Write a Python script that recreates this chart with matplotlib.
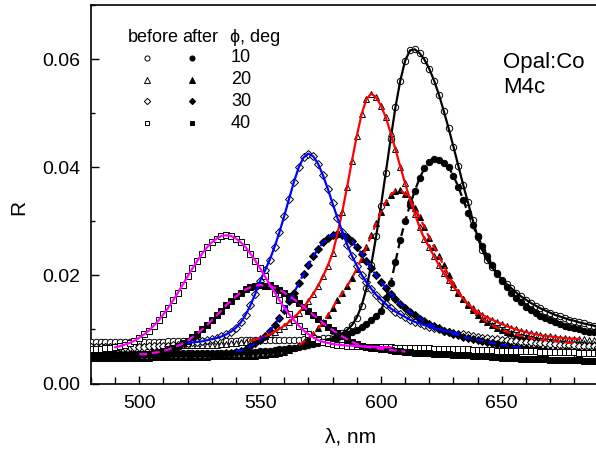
import numpy as np
import matplotlib
matplotlib.use('Agg')
from matplotlib import pyplot as plt
from matplotlib.ticker import MultipleLocator, FormatStrFormatter

plt.rcParams['font.family'] = ['Liberation Sans', 'DejaVu Sans']

# wavelength grid of the measured points, nm
wavelength = np.arange(480, 692, 2)

# reflectance, in units of 1e-4
r10_before = np.array([
    76, 76, 76, 76, 76, 76, 76, 76, 77, 77,
    77, 77, 77, 77, 77, 77, 78, 78, 78, 78,
    78, 78, 78, 78, 79, 79, 79, 79, 79, 79,
    79, 80, 80, 80, 80, 80, 80, 80, 80, 80,
    80, 81, 81, 81, 82, 82, 83, 83, 84, 85,
    86, 89, 93, 99, 108, 122, 144, 176, 220, 272,
    329, 390, 452, 511, 560, 597, 616, 618, 611, 599,
    582, 560, 534, 504, 472, 438, 403, 368, 335, 302,
    271, 246, 228, 215, 203, 192, 184, 176, 168, 161,
    155, 149, 144, 139, 135, 131, 127, 124, 121, 118,
    116, 113, 111, 109, 107, 105]) / 1e4
r10_after = np.array([
    55, 55, 55, 55, 55, 55, 55, 55, 55, 55,
    55, 55, 55, 56, 56, 56, 56, 56, 56, 56,
    56, 56, 56, 56, 57, 57, 57, 57, 57, 57,
    58, 58, 58, 59, 59, 60, 60, 61, 62, 63,
    64, 65, 66, 68, 69, 71, 73, 75, 77, 79,
    81, 84, 87, 91, 95, 99, 104, 110, 117, 125,
    135, 158, 185, 225, 266, 300, 330, 356, 380, 398,
    410, 416, 414, 408, 400, 384, 364, 340, 316, 293,
    272, 254, 236, 219, 204, 190, 178, 168, 158, 150,
    142, 136, 130, 125, 121, 117, 113, 110, 107, 104,
    102, 100, 98, 96, 95, 94]) / 1e4
r20_before = np.array([
    70, 70, 70, 70, 70, 70, 70, 70, 70, 70,
    70, 70, 70, 70, 70, 70, 70, 70, 71, 71,
    71, 71, 71, 71, 71, 72, 72, 73, 73, 74,
    75, 76, 77, 79, 81, 84, 87, 91, 96, 101,
    107, 114, 122, 131, 141, 153, 166, 181, 198, 218,
    241, 277, 318, 364, 412, 458, 498, 526, 536, 529,
    514, 492, 464, 433, 401, 370, 341, 314, 289, 267,
    252, 235, 219, 204, 191, 179, 168, 157, 147, 139,
    132, 127, 122, 118, 114, 110, 106, 103, 100, 97,
    95, 93, 91, 89, 88, 87, 86, 85, 84, 83,
    83, 82, 82, 81, 81, 80]) / 1e4
r20_after = np.array([
    48, 48, 48, 48, 48, 48, 48, 48, 48, 48,
    48, 48, 48, 49, 49, 49, 49, 49, 49, 49,
    49, 49, 49, 49, 49, 50, 50, 50, 50, 50,
    50, 50, 50, 51, 51, 52, 53, 54, 55, 57,
    59, 62, 66, 71, 77, 84, 92, 102, 113, 126,
    140, 155, 167, 180, 195, 212, 231, 252, 274, 296,
    317, 335, 349, 356, 357, 351, 340, 325, 308, 289,
    270, 252, 235, 219, 200, 184, 170, 157, 146, 136,
    127, 120, 113, 108, 103, 99, 96, 93, 90, 88,
    86, 84, 82, 81, 80, 79, 78, 77, 76, 75,
    75, 74, 74, 73, 73, 72]) / 1e4
r30_before = np.array([
    68, 68, 68, 68, 68, 68, 68, 68, 68, 68,
    68, 68, 69, 69, 69, 70, 70, 71, 72, 73,
    75, 76, 77, 78, 80, 82, 84, 87, 91, 96,
    103, 113, 127, 145, 166, 190, 209, 229, 253, 280,
    310, 342, 373, 400, 418, 425, 420, 406, 385, 360,
    333, 306, 281, 257, 236, 218, 201, 187, 175, 164,
    155, 147, 139, 133, 128, 123, 118, 114, 111, 108,
    105, 102, 100, 98, 96, 94, 92, 91, 89, 88,
    86, 85, 84, 83, 82, 81, 80, 79, 78, 77,
    77, 76, 75, 75, 74, 73, 73, 72, 72, 71,
    71, 70, 70, 69, 69, 68]) / 1e4
r30_after = np.array([
    53, 53, 53, 53, 53, 53, 53, 53, 53, 53,
    53, 53, 53, 53, 53, 53, 53, 54, 54, 54,
    54, 54, 54, 54, 54, 54, 55, 55, 56, 57,
    59, 61, 64, 69, 74, 80, 88, 98, 109, 122,
    136, 152, 168, 185, 203, 220, 235, 249, 261, 270,
    275, 277, 275, 271, 263, 252, 240, 227, 213, 200,
    188, 177, 166, 156, 147, 140, 132, 126, 120, 115,
    110, 106, 102, 98, 95, 92, 89, 86, 84, 83,
    81, 79, 77, 75, 73, 72, 70, 68, 67, 66,
    65, 64, 63, 62, 62, 61, 61, 60, 60, 60,
    59, 59, 59, 58, 58, 58]) / 1e4
r40_before = np.array([
    63, 63, 64, 65, 66, 67, 69, 72, 75, 79,
    85, 91, 98, 107, 117, 128, 140, 154, 168, 183,
    198, 213, 227, 240, 252, 261, 268, 273, 274, 273,
    268, 261, 252, 240, 227, 213, 198, 183, 168, 154,
    140, 128, 117, 107, 98, 91, 85, 80, 77, 75,
    73, 72, 71, 70, 70, 69, 69, 68, 68, 68,
    67, 67, 67, 66, 66, 66, 66, 65, 65, 65,
    65, 64, 64, 64, 64, 63, 63, 63, 63, 62,
    62, 62, 62, 62, 61, 61, 61, 61, 60, 60,
    60, 60, 60, 59, 59, 59, 59, 58, 58, 58,
    58, 57, 57, 57, 57, 57]) / 1e4
r40_after = np.array([
    52, 52, 52, 52, 52, 52, 52, 52, 53, 53,
    54, 54, 55, 57, 58, 60, 63, 66, 70, 74,
    79, 86, 92, 100, 108, 117, 126, 135, 145, 153,
    161, 168, 174, 178, 181, 182, 181, 180, 177, 173,
    168, 162, 156, 149, 142, 135, 127, 120, 112, 105,
    99, 93, 87, 82, 77, 73, 70, 68, 66, 65,
    64, 63, 62, 61, 60, 59, 58, 57, 57, 56,
    56, 55, 55, 54, 54, 53, 53, 52, 52, 51,
    51, 50, 50, 49, 49, 48, 48, 47, 47, 46,
    46, 46, 45, 45, 45, 44, 44, 44, 43, 43,
    43, 43, 42, 42, 42, 42]) / 1e4

angles = ['10', '20', '30', '40']
before = [r10_before, r20_before, r30_before, r40_before]
after = [r10_after, r20_after, r30_after, r40_after]
# wavelength ranges covered by the fitted curves
fit_before = [(580, 690), (546, 682), (520, 632), (490, 604)]
fit_after = [(588, 690), (566, 680), (540, 658), (500, 610)]

fit_colors = ['black', 'red', 'blue', 'magenta']
markers = ['o', '^', 'D', 's']
msizes = [4.6, 5.0, 4.0, 4.2]

fig = plt.figure(figsize=(5.96, 4.54), dpi=100)
ax = fig.add_axes([91 / 596, 70.5 / 454, 505 / 596, 378.5 / 454])

for i in range(4):
    ax.plot(wavelength, before[i], ls='none', marker=markers[i], ms=msizes[i],
            mfc='white', mec='black', mew=0.7, zorder=3)
    ax.plot(wavelength, after[i], ls='none', marker=markers[i], ms=msizes[i],
            mfc='black', mec='black', mew=0.7, zorder=3)

for i in range(4):
    lo, hi = fit_before[i]
    m = (wavelength >= lo) & (wavelength <= hi)
    ax.plot(wavelength[m], before[i][m], color=fit_colors[i], lw=1.6, zorder=4)
    lo, hi = fit_after[i]
    m = (wavelength >= lo) & (wavelength <= hi)
    ax.plot(wavelength[m], after[i][m], color=fit_colors[i], lw=1.6,
            dashes=(3.5, 2.2), zorder=4)

ax.set_xlim(480, 689)
ax.set_ylim(0, 0.07)
ax.xaxis.set_major_locator(MultipleLocator(50))
ax.xaxis.set_minor_locator(MultipleLocator(10))
ax.yaxis.set_major_locator(MultipleLocator(0.02))
ax.yaxis.set_minor_locator(MultipleLocator(0.01))
ax.yaxis.set_major_formatter(FormatStrFormatter('%.2f'))
ax.tick_params(which='both', direction='in', width=1.0, labelsize=14,
               top=False, right=False)
ax.tick_params(axis='x', which='major', length=6, pad=8)
ax.tick_params(axis='x', which='minor', length=5)
ax.tick_params(axis='y', which='major', length=6, pad=8)
ax.tick_params(axis='y', which='minor', length=3)
ax.spines['right'].set_visible(False)
for s in ['left', 'bottom', 'top']:
    ax.spines[s].set_linewidth(1.2)

ax.set_xlabel('λ, nm', fontsize=15)
ax.xaxis.set_label_coords(0.513, -0.115)
ax.set_ylabel('R', fontsize=15)
ax.yaxis.set_label_coords(-0.125, 0.464)

ax.text(0.816, 0.834, 'Opal:Co', fontsize=16, transform=ax.transAxes)
ax.text(0.816, 0.767, 'M4c', fontsize=16, transform=ax.transAxes)

# hand-made legend: open = before, filled = after
ax.text(0.0733, 0.902, 'before', fontsize=13, transform=ax.transAxes)
ax.text(0.180, 0.902, 'after', fontsize=13, transform=ax.transAxes)
ax.text(0.275, 0.902, 'ϕ, deg', fontsize=13, transform=ax.transAxes)
row_y = [0.86, 0.802, 0.746, 0.688]
for i in range(4):
    ax.plot([0.111], [row_y[i]], marker=markers[i], ms=msizes[i] * 0.8,
            mfc='white', mec='black', mew=0.7, transform=ax.transAxes)
    ax.plot([0.2], [row_y[i]], marker=markers[i], ms=msizes[i] * 0.8,
            mfc='black', mec='black', mew=0.7, transform=ax.transAxes)
    ax.text(0.277, row_y[i], angles[i], fontsize=13, va='center',
            transform=ax.transAxes)

fig.savefig('out.png', dpi=100)
